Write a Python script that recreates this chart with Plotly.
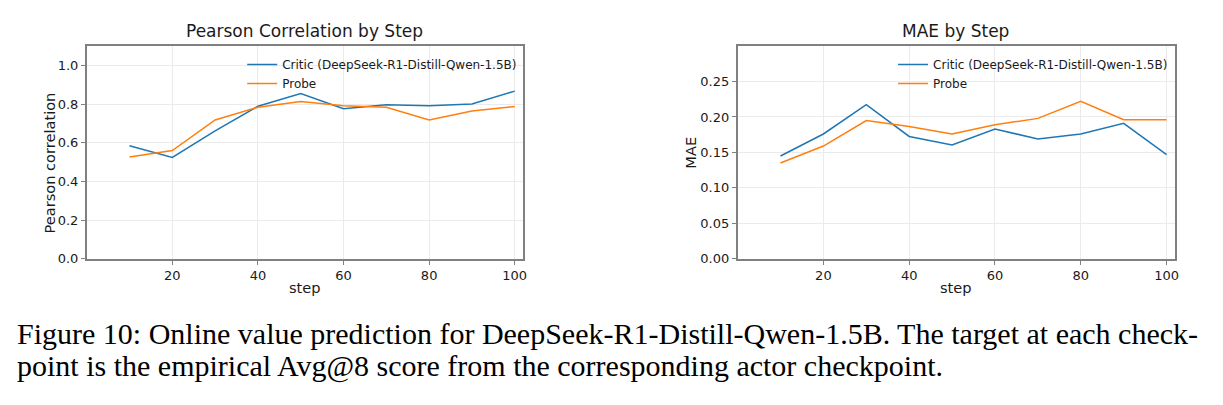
import plotly.graph_objects as go

steps = [10, 20, 30, 40, 50, 60, 70, 80, 90, 100]
pearson_critic = [0.585, 0.524, 0.662, 0.789, 0.854, 0.776, 0.796, 0.791, 0.801, 0.867]
pearson_probe = [0.526, 0.560, 0.718, 0.784, 0.813, 0.791, 0.784, 0.718, 0.764, 0.787]
mae_critic = [0.145, 0.176, 0.2175, 0.1725, 0.1605, 0.183, 0.169, 0.176, 0.191, 0.147]
mae_probe = [0.135, 0.159, 0.195, 0.1865, 0.176, 0.189, 0.198, 0.222, 0.196, 0.196]

critic_name = "Critic (DeepSeek-R1-Distill-Qwen-1.5B)"
probe_name = "Probe"
BLUE = "#1f77b4"
ORANGE = "#ff7f0e"

W, H = 1223, 405
FONT = "DejaVu Sans"

def px_x(p):
    return p / W

def px_y(p):
    return 1 - p / H

fig = go.Figure()
fig.add_trace(go.Scatter(x=steps, y=pearson_critic, mode="lines", name=critic_name,
                         line=dict(color=BLUE, width=1.5), xaxis="x", yaxis="y", legend="legend"))
fig.add_trace(go.Scatter(x=steps, y=pearson_probe, mode="lines", name=probe_name,
                         line=dict(color=ORANGE, width=1.5), xaxis="x", yaxis="y", legend="legend"))
fig.add_trace(go.Scatter(x=steps, y=mae_critic, mode="lines", name=critic_name,
                         line=dict(color=BLUE, width=1.5), xaxis="x2", yaxis="y2", legend="legend2"))
fig.add_trace(go.Scatter(x=steps, y=mae_probe, mode="lines", name=probe_name,
                         line=dict(color=ORANGE, width=1.5), xaxis="x2", yaxis="y2", legend="legend2"))

axis_common = dict(showline=True, mirror=True, linecolor="#808080", linewidth=1.5,
                   ticks="outside", ticklen=4, tickcolor="#808080", tickwidth=1,
                   showgrid=True, gridcolor="#ebebeb", gridwidth=1, zeroline=False,
                   tickfont=dict(family=FONT, size=13, color="#1a1a1a"))

yd = [px_y(264), px_y(47)]
fig.update_layout(
    width=W, height=H, margin=dict(l=0, r=0, t=0, b=0),
    paper_bgcolor="white", plot_bgcolor="white",
    xaxis=dict(domain=[px_x(87), px_x(525)], range=[0, 102], tickvals=[20, 40, 60, 80, 100],
               anchor="y", **axis_common),
    yaxis=dict(domain=yd, range=[0, 1.1], tickvals=[0, 0.2, 0.4, 0.6, 0.8, 1.0],
               ticktext=["0.0", "0.2", "0.4", "0.6", "0.8", "1.0"], anchor="x", **axis_common),
    xaxis2=dict(domain=[px_x(740), px_x(1179)], range=[0, 102], tickvals=[20, 40, 60, 80, 100],
                anchor="y2", **axis_common),
    yaxis2=dict(domain=yd, range=[0, 0.3], tickvals=[0, 0.05, 0.1, 0.15, 0.2, 0.25],
                ticktext=["0.00", "0.05", "0.10", "0.15", "0.20", "0.25"], anchor="x2", **axis_common),
    legend=dict(x=px_x(243), y=px_y(51), xanchor="left", yanchor="top",
                bgcolor="rgba(0,0,0,0)", font=dict(family=FONT, size=12, color="#1a1a1a"),
                itemwidth=30, tracegroupgap=0),
    legend2=dict(x=px_x(896), y=px_y(51), xanchor="left", yanchor="top",
                 bgcolor="rgba(0,0,0,0)", font=dict(family=FONT, size=12, color="#1a1a1a"),
                 itemwidth=30, tracegroupgap=0),
)

ann = [
    dict(text="Pearson Correlation by Step", x=px_x(306), y=px_y(32), size=17),
    dict(text="MAE by Step", x=px_x(959), y=px_y(32), size=17),
    dict(text="step", x=px_x(306), y=px_y(293), size=14.6),
    dict(text="step", x=px_x(959), y=px_y(293), size=14.6),
]
for a in ann:
    fig.add_annotation(text=a["text"], x=a["x"], y=a["y"], xref="paper", yref="paper",
                       showarrow=False, xanchor="center", yanchor="middle",
                       font=dict(family=FONT, size=a["size"], color="#1a1a1a"))
fig.add_annotation(text="Pearson correlation", x=px_x(50), y=px_y(166), xref="paper", yref="paper",
                   showarrow=False, textangle=-90, xanchor="center", yanchor="middle",
                   font=dict(family=FONT, size=14.6, color="#1a1a1a"))
fig.add_annotation(text="MAE", x=px_x(693), y=px_y(156), xref="paper", yref="paper",
                   showarrow=False, textangle=-90, xanchor="center", yanchor="middle",
                   font=dict(family=FONT, size=14.6, color="#1a1a1a"))

caption1 = "Figure 10: Online value prediction for DeepSeek-R1-Distill-Qwen-1.5B. The target at each check-"
caption2 = "point is the empirical Avg@8 score from the corresponding actor checkpoint."
fig.add_annotation(text=caption1, x=px_x(15), y=px_y(340), xref="paper", yref="paper",
                   showarrow=False, xanchor="left", yanchor="middle",
                   font=dict(family="Liberation Serif", size=30, color="black"))
fig.add_annotation(text=caption2, x=px_x(15), y=px_y(373), xref="paper", yref="paper",
                   showarrow=False, xanchor="left", yanchor="middle",
                   font=dict(family="Liberation Serif", size=30, color="black"))

fig.write_html("out.html")
